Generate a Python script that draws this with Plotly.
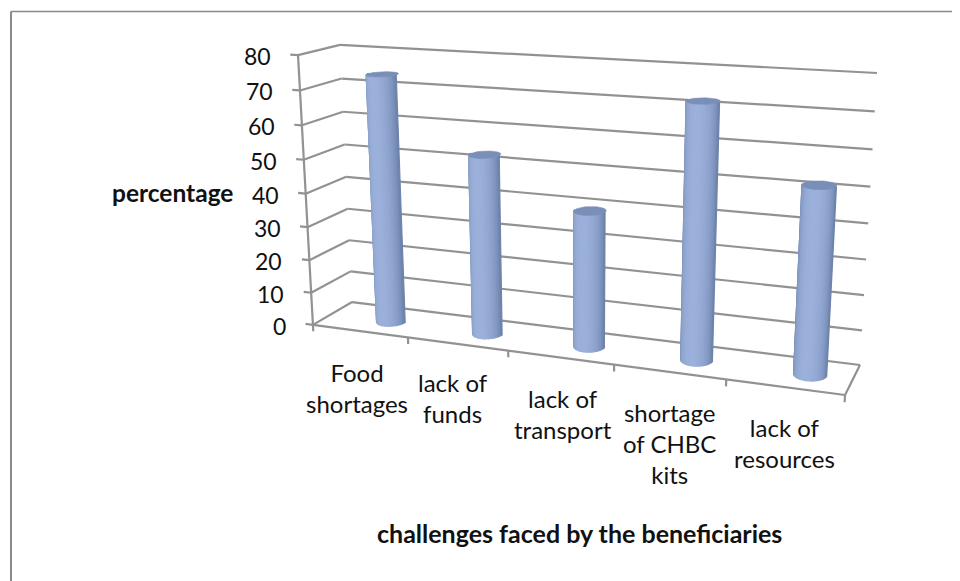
import numpy as np
import plotly.graph_objects as go

categories = ["Food<br>shortages", "lack of<br>funds", "lack of<br>transport", "shortage<br>of CHBC<br>kits", "lack of<br>resources"]
values = [74, 53, 39.5, 72, 52]
tick_values = [0, 10, 20, 30, 40, 50, 60, 70, 80]
x_title = "challenges faced by the beneficiaries"
y_title = "percentage"

# ---- 3-D view of the Excel chart: (category, depth, value) -> page pixel ----
calib_world = [(0,0,0),(0,0,80),(0,1,0),(0,1,80),(5,1,0),(5,1,80),(5,0,0)]
calib_pixel = [(313,325),(298,55),(352,302),(340,45),(860,365),(877,73),(845,395)]
rows = []
for (X,Y,Z),(u,v) in zip(calib_world, calib_pixel):
    rows.append([X,Y,Z/80,1,0,0,0,0,-u*X,-u*Y,-u*Z/80,-u])
    rows.append([0,0,0,0,X,Y,Z/80,1,-v*X,-v*Y,-v*Z/80,-v])
P = np.linalg.svd(np.array(rows, float))[2][-1].reshape(3,4)

def project(X, Y, Z):
    q = P @ np.array([X, Y, Z/80, np.ones_like(np.asarray(X, float))*1.0])
    return q[0]/q[2], q[1]/q[2]

GRID = "#929292"
fig = go.Figure()

def seg(a, b, width=2.2, color=GRID):
    xs, ys = project(np.array([a[0], b[0]], float), np.array([a[1], b[1]], float), np.array([a[2], b[2]], float))
    fig.add_trace(go.Scatter(x=xs, y=ys, mode="lines", line=dict(color=color, width=width),
                             hoverinfo="skip", showlegend=False))

for v in tick_values:
    seg((0,0,v),(0,1,v))
    seg((0,1,v),(5,1,v))
    seg((-0.08,0,v),(0,0,v))
seg((0,0,0),(0,0,80))
seg((0,0,0),(5,0,0))
seg((5,0,0),(5,1,0))
for i in range(6):
    seg((i,0,0),(i,0,-2))

# ---- cylinders: one trace per shade, each holding a strip of every bar ----
RX, RY = 0.14, 0.22
CX_SHIFT = 0.64
N = 20
dark = np.array([104,126,166.])
light = np.array([156,177,219.])
for k in range(N):
    t0 = np.pi + np.pi*k/N
    t1 = np.pi + np.pi*(k+1)/N
    tm = (k+0.5)/N
    w = np.sin(np.pi*tm)**0.8
    w = w*(1-0.12*abs(tm-0.45))
    col = dark + (light-dark)*w
    colour = "rgb(%d,%d,%d)" % tuple(col)
    xs, ys = [], []
    for i, val in enumerate(values):
        cx = i+CX_SHIFT; cy = 0.5
        tt = np.linspace(t0, t1, 3)
        bx, by = project(cx+RX*np.cos(tt), cy+RY*np.sin(tt), 0*tt)
        ux, uy = project(cx+RX*np.cos(tt), cy+RY*np.sin(tt), 0*tt+val)
        xs += list(bx)+list(ux[::-1])+[bx[0], None]
        ys += list(by)+list(uy[::-1])+[by[0], None]
    fig.add_trace(go.Scatter(x=xs, y=ys, mode="lines", fill="toself", fillcolor=colour,
                             line=dict(color=colour, width=1.2), hoverinfo="skip", showlegend=False))

xs, ys = [], []
tt = np.linspace(0, 2*np.pi, 40)
for i, val in enumerate(values):
    ex, ey = project(i+CX_SHIFT+RX*np.cos(tt), 0.5+RY*np.sin(tt), 0*tt+val)
    xs += list(ex)+[None]; ys += list(ey)+[None]
fig.add_trace(go.Scatter(x=xs, y=ys, mode="lines", fill="toself", fillcolor="#7a8fb8",
                         line=dict(color="#7a8fb8", width=0.6), hoverinfo="skip", showlegend=False))

# ---- text ----
ann = []
FONT = "Lato"
tick_px = [project(np.array([0.]), np.array([0.]), np.array([float(v)])) for v in tick_values]
for v, (px, py) in zip(tick_values, tick_px):
    ann.append(dict(x=px[0]-25, y=py[0]+1, text=str(v), xanchor="right", yanchor="middle",
                    font=dict(size=23, color="#111", family=FONT), showarrow=False))
label_centres = [(357,388),(453,398),(563,414),(669,443),(784,443)]
for c, (px, py) in zip(categories, label_centres):
    ann.append(dict(x=px, y=py, text=c, xanchor="center", yanchor="middle", align="center",
                    font=dict(size=24, color="#111", family=FONT), showarrow=False))
ann.append(dict(x=172, y=192, text="<b>%s</b>" % y_title, xanchor="center", yanchor="middle",
                font=dict(size=24.5, color="#111", family=FONT), showarrow=False))
ann.append(dict(x=579, y=533, text="<b>%s</b>" % x_title, xanchor="center", yanchor="middle",
                font=dict(size=25, color="#111", family=FONT), showarrow=False))

fig.update_layout(
    width=952, height=573, margin=dict(l=0, r=0, t=0, b=0),
    paper_bgcolor="white", plot_bgcolor="white", showlegend=False,
    xaxis=dict(range=[8,960], visible=False, fixedrange=True),
    yaxis=dict(range=[581,8], visible=False, fixedrange=True),
    annotations=ann,
    shapes=[dict(type="line", x0=11, y0=11.5, x1=11, y1=581, line=dict(color="#8a8a8a", width=2)),
            dict(type="line", x0=11, y0=11.5, x1=960, y1=11.5, line=dict(color="#8a8a8a", width=1.5))],
)
fig.write_html("out.html")
